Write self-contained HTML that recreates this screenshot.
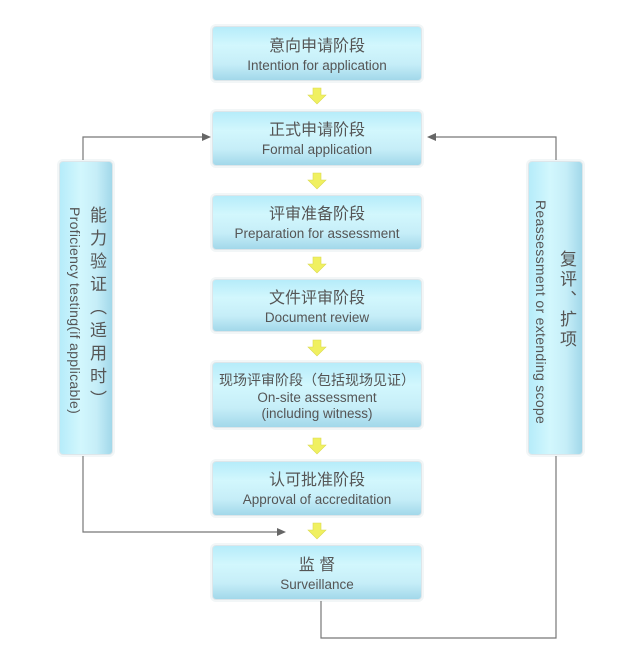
<!DOCTYPE html>
<html><head><meta charset="utf-8"><style>
body{margin:0;width:632px;height:672px;background:#fff;position:relative;overflow:hidden;font-family:"Liberation Sans","Noto Sans CJK SC",sans-serif;color:#555}
.b{position:absolute;box-sizing:border-box;border:1px solid #dde6ea;border-radius:4px;box-shadow:0 0 0 2px #f2f6f7;background:linear-gradient(#b6ecfa 0%,#d2f7fd 35%,#c6eef8 70%,#a2d8ea 100%);text-align:center}
.c{font-size:16px;line-height:20px;white-space:nowrap}
.e{font-size:13.5px;line-height:17px;white-space:nowrap}
.vb{background:linear-gradient(90deg,#b6ecfa,#d2f7fd 40%,#c6eef8 70%,#a2d8ea)}
.vt{position:absolute;writing-mode:vertical-rl;white-space:nowrap}
.vc{font-size:17px;line-height:20px;letter-spacing:6px;width:20px}
.ve{font-size:14px;line-height:17px;letter-spacing:0.3px;width:17px}
</style></head><body>
<div class="b" style="left:212px;top:26px;width:210px;height:55px;padding-top:10px"><div class="c">意向申请阶段</div><div class="e">Intention for application</div></div>
<div class="b" style="left:212px;top:111px;width:210px;height:55px;padding-top:9px"><div class="c">正式申请阶段</div><div class="e">Formal application</div></div>
<div class="b" style="left:212px;top:195px;width:210px;height:55px;padding-top:9px"><div class="c">评审准备阶段</div><div class="e">Preparation for assessment</div></div>
<div class="b" style="left:212px;top:279px;width:210px;height:53px;padding-top:9px"><div class="c">文件评审阶段</div><div class="e">Document review</div></div>
<div class="b" style="left:212px;top:362px;width:210px;height:66px;padding-top:8px"><div class="c" style="font-size:14px;line-height:19px">现场评审阶段（包括现场见证）</div><div class="e" style="line-height:16px">On-site assessment<br>(including witness)</div></div>
<div class="b" style="left:212px;top:461px;width:210px;height:55px;padding-top:9px"><div class="c">认可批准阶段</div><div class="e">Approval of accreditation</div></div>
<div class="b" style="left:212px;top:545px;width:210px;height:55px;padding-top:10px"><div class="c">监&nbsp;督</div><div class="e">Surveillance</div></div>
<div class="b vb" style="left:59px;top:161px;width:54px;height:294px"></div>
<div class="vt vc" style="left:86px;top:206px">能力验证（适用时）</div>
<div class="vt ve" style="left:66px;top:207px">Proficiency testing(if applicable)</div>
<div class="b vb" style="left:528px;top:161px;width:55px;height:294px"></div>
<div class="vt vc" style="left:556px;top:250px;letter-spacing:3px">复评、扩项</div>
<div class="vt ve" style="left:532px;top:200px">Reassessment or extending scope</div>
<svg style="position:absolute;left:0;top:0" width="632" height="672">
<g fill="none" stroke="#777" stroke-width="1.2">
<polyline points="83,160 83,137 204,137"/>
<polyline points="83,456 83,532 279,532"/>
<polyline points="556,160 556,137 434,137"/>
<polyline points="556,456 556,638 321,638 321,601"/>
</g>
<g fill="#666">
<polygon points="211,137 202,133 202,141"/>
<polygon points="286,532 277,528 277,536"/>
<polygon points="427,137 436,133 436,141"/>
</g>
<g fill="#f0f060" stroke="#dada50" stroke-width="0.6">
<polygon points="313,88 321,88 321,95 326,95 317,104 308,95 313,95"/>
<polygon points="313,173 321,173 321,180 326,180 317,189 308,180 313,180"/>
<polygon points="313,257 321,257 321,264 326,264 317,273 308,264 313,264"/>
<polygon points="313,340 321,340 321,347 326,347 317,356 308,347 313,347"/>
<polygon points="313,438 321,438 321,445 326,445 317,454 308,445 313,445"/>
<polygon points="313,523 321,523 321,530 326,530 317,539 308,530 313,530"/>
</g>
</svg>
</body></html>
